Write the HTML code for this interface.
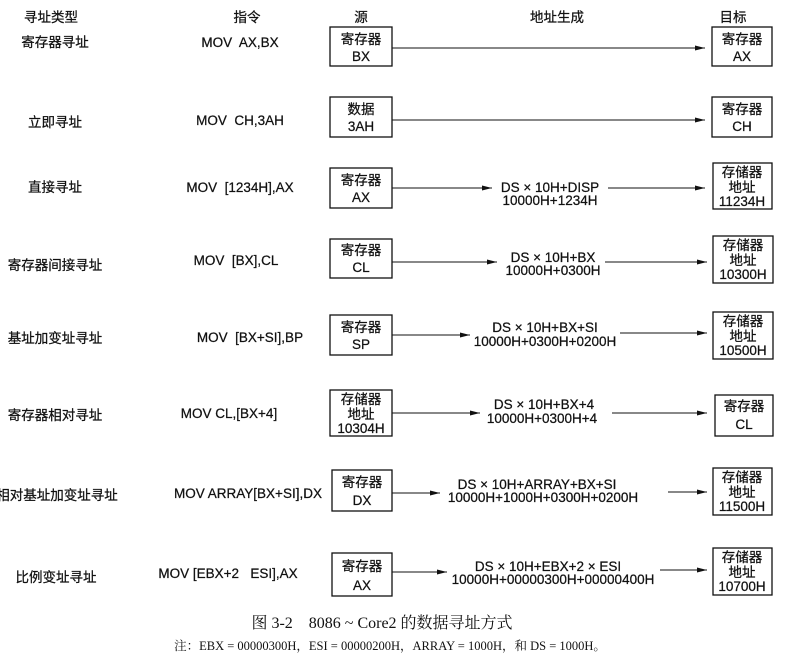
<!DOCTYPE html>
<html><head><meta charset="utf-8"><style>
body{margin:0;background:#fff;width:806px;height:656px;overflow:hidden}
svg text{font-family:"Liberation Sans","Noto Sans CJK SC",sans-serif;font-size:13.5px;fill:#111;stroke:#111;stroke-width:0.25;white-space:pre}
.s{font-family:"Liberation Serif","Noto Serif CJK SC",serif;stroke-width:0}
</style></head><body>
<svg width="806" height="656" viewBox="0 0 806 656" xmlns="http://www.w3.org/2000/svg" xml:space="preserve">
<defs><marker id="a" markerWidth="10" markerHeight="6" refX="10" refY="3" orient="auto" markerUnits="userSpaceOnUse"><path d="M0,0.5 L10,3 L0,5.5z" fill="#111"/></marker></defs>
<g stroke="#111" stroke-width="1.3" fill="none">
<rect x="330" y="27" width="62" height="39"/><rect x="712" y="27" width="60" height="39"/>
<rect x="330" y="97" width="62" height="40"/><rect x="712" y="97" width="60" height="40"/>
<rect x="330" y="168" width="62" height="40"/><rect x="713" y="163" width="59" height="46"/>
<rect x="330" y="239" width="62" height="39"/><rect x="713" y="236" width="60" height="47"/>
<rect x="330" y="315" width="62" height="40"/><rect x="713" y="312" width="60" height="47"/>
<rect x="330" y="390" width="62" height="46"/><rect x="715" y="395" width="58" height="41"/>
<rect x="332" y="470" width="60" height="41"/><rect x="713" y="468" width="59" height="47"/>
<rect x="332" y="553" width="60" height="43"/><rect x="713" y="548" width="59" height="47"/>
</g>
<g stroke="#111" stroke-width="1" marker-end="url(#a)">
<line x1="392" y1="48" x2="705" y2="48"/>
<line x1="392" y1="120" x2="705" y2="120"/>
<line x1="392" y1="188" x2="492" y2="188"/><line x1="608" y1="188" x2="705" y2="188"/>
<line x1="392" y1="262" x2="497" y2="262"/><line x1="605" y1="262" x2="707" y2="262"/>
<line x1="392" y1="335" x2="470" y2="335"/><line x1="620" y1="333" x2="707" y2="333"/>
<line x1="392" y1="413" x2="480" y2="413"/><line x1="612" y1="413" x2="707" y2="413"/>
<line x1="392" y1="493" x2="440" y2="493"/><line x1="668" y1="492" x2="707" y2="492"/>
<line x1="392" y1="572" x2="447" y2="572"/><line x1="660" y1="570" x2="707" y2="570"/>
</g>
<g text-anchor="middle">
<text x="51" y="22">寻址类型</text><text x="247" y="22">指令</text><text x="361" y="22">源</text><text x="557" y="22">地址生成</text><text x="733" y="22">目标</text>
<text x="55" y="47">寄存器寻址</text><text x="240" y="47">MOV  AX,BX</text>
<text x="55" y="127">立即寻址</text><text x="240" y="125">MOV  CH,3AH</text>
<text x="55" y="192">直接寻址</text><text x="240" y="192">MOV  [1234H],AX</text>
<text x="55" y="270">寄存器间接寻址</text><text x="236" y="265">MOV  [BX],CL</text>
<text x="55" y="343">基址加变址寻址</text><text x="250" y="342">MOV  [BX+SI],BP</text>
<text x="55" y="420">寄存器相对寻址</text><text x="229" y="418">MOV CL,[BX+4]</text>
<text x="57" y="500">相对基址加变址寻址</text><text x="248" y="498">MOV ARRAY[BX+SI],DX</text>
<text x="56" y="582">比例变址寻址</text><text x="228" y="578">MOV [EBX+2   ESI],AX</text>
<text x="361" y="44">寄存器</text><text x="361" y="61">BX</text>
<text x="742" y="44">寄存器</text><text x="742" y="61">AX</text>
<text x="361" y="114">数据</text><text x="361" y="131">3AH</text>
<text x="742" y="114">寄存器</text><text x="742" y="131">CH</text>
<text x="361" y="185">寄存器</text><text x="361" y="202">AX</text>
<text x="742" y="177">存储器</text><text x="742" y="192">地址</text><text x="742" y="206">11234H</text>
<text x="550" y="192">DS × 10H+DISP</text><text x="550" y="205">10000H+1234H</text>
<text x="361" y="255">寄存器</text><text x="361" y="272">CL</text>
<text x="743" y="250">存储器</text><text x="743" y="265">地址</text><text x="743" y="279">10300H</text>
<text x="553" y="262">DS × 10H+BX</text><text x="553" y="275">10000H+0300H</text>
<text x="361" y="332">寄存器</text><text x="361" y="349">SP</text>
<text x="743" y="326">存储器</text><text x="743" y="341">地址</text><text x="743" y="355">10500H</text>
<text x="545" y="332">DS × 10H+BX+SI</text><text x="545" y="346">10000H+0300H+0200H</text>
<text x="361" y="404">存储器</text><text x="361" y="419">地址</text><text x="361" y="433">10304H</text>
<text x="744" y="411">寄存器</text><text x="744" y="429">CL</text>
<text x="544" y="409">DS × 10H+BX+4</text><text x="542" y="423">10000H+0300H+4</text>
<text x="362" y="487">寄存器</text><text x="362" y="505">DX</text>
<text x="742" y="482">存储器</text><text x="742" y="497">地址</text><text x="742" y="511">11500H</text>
<text x="537" y="489">DS × 10H+ARRAY+BX+SI</text><text x="543" y="502">10000H+1000H+0300H+0200H</text>
<text x="362" y="571">寄存器</text><text x="362" y="590">AX</text>
<text x="742" y="562">存储器</text><text x="742" y="577">地址</text><text x="742" y="591">10700H</text>
<text x="548" y="571">DS × 10H+EBX+2 × ESI</text><text x="553" y="584">10000H+00000300H+00000400H</text>
<text class="s" x="382" y="628" style="font-size:16px">图 3-2　8086 ~ Core2 的数据寻址方式</text>
<text class="s" x="390" y="650" style="font-size:12.5px">注：EBX = 00000300H，ESI = 00000200H，ARRAY = 1000H，和 DS = 1000H。</text>
</g>
</svg>
</body></html>
